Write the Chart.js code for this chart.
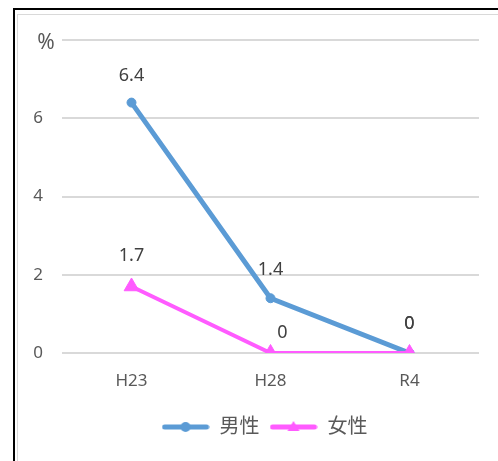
<!DOCTYPE html>
<html>
<head>
<meta charset="utf-8">
<script src="https://cdn.jsdelivr.net/npm/chart.js@4"></script>
<style>
  html, body { margin: 0; padding: 0; background: #fff; }
  #wrap { position: relative; width: 498px; height: 461px; overflow: hidden; }
  #outer { position: absolute; left: 13px; top: 8px; width: 520px; height: 480px; border: 2px solid #000; }
  #inner { position: absolute; left: 17px; top: 14px; width: 520px; height: 480px; border: 1px solid #d9d9d9; }
  canvas { position: absolute; left: 0; top: 0; }
</style>
</head>
<body>
<div id="wrap">
  <div id="outer"></div>
  <div id="inner"></div>
  <canvas id="lineChart" width="498" height="461"></canvas>
</div>
<script>
const categories = ["H23", "H28", "R4"];
const maleValues = [6.4, 1.4, 0];
const femaleValues = [1.7, 0, 0];
const seriesNames = ["男性", "女性"];
const yUnitLabel = "%";

// label offsets from the point (px), roughly where Excel put them
const maleLabelShift = [[0, -27], [0, -28], [0, -29]];
const femaleLabelShift = [[0, -31], [12, -20], [0, -29]];

const blue = "#5b9bd5";
const pink = "#ff5bff";
const textColor = "#595959";
const fontFamily = '"Noto Sans", "Noto Sans CJK JP", sans-serif';

function legendIcon(color, marker) {
  const c = document.createElement("canvas");
  c.width = 48;
  c.height = 16;
  const ctx = c.getContext("2d");
  ctx.strokeStyle = color;
  ctx.fillStyle = color;
  ctx.lineWidth = 5;
  ctx.lineCap = "round";
  ctx.beginPath();
  ctx.moveTo(3, 8);
  ctx.lineTo(45, 8);
  ctx.stroke();
  ctx.beginPath();
  if (marker === "circle") {
    ctx.arc(24, 8, 5, 0, Math.PI * 2);
  } else {
    ctx.moveTo(24, 2);
    ctx.lineTo(30, 12);
    ctx.lineTo(18, 12);
    ctx.closePath();
  }
  ctx.fill();
  return c;
}

const icons = [legendIcon(blue, "circle"), legendIcon(pink, "triangle")];

// Excel centres the legend under the plot area, not the whole canvas
const legendShift = {
  id: "legendShift",
  afterLayout(chart) {
    chart.legend.left = 50;
  }
};

const dataLabels = {
  id: "dataLabels",
  afterDatasetsDraw(chart) {
    const ctx = chart.ctx;
    const shifts = [maleLabelShift, femaleLabelShift];
    ctx.save();
    ctx.font = "18px " + fontFamily;
    ctx.fillStyle = "#404040";
    ctx.textAlign = "center";
    ctx.textBaseline = "middle";
    chart.data.datasets.forEach((ds, di) => {
      chart.getDatasetMeta(di).data.forEach((pt, i) => {
        const s = shifts[di][i];
        ctx.fillText(String(ds.data[i]), pt.x + s[0], pt.y + s[1]);
      });
    });
    // unit label in place of the top tick
    const y = chart.scales.y;
    ctx.fillStyle = textColor;
    ctx.font = "21px " + fontFamily;
    ctx.fillText(yUnitLabel, 46, y.getPixelForValue(y.max) + 3);
    ctx.restore();
  }
};

new Chart(document.getElementById("lineChart"), {
  type: "line",
  data: {
    labels: categories,
    datasets: [
      {
        label: seriesNames[0],
        data: maleValues,
        borderColor: blue,
        backgroundColor: blue,
        borderWidth: 5,
        pointStyle: "circle",
        pointRadius: 4.5,
        pointBorderWidth: 1,
        pointHoverRadius: 4.5,
        tension: 0,
        order: 1
      },
      {
        label: seriesNames[1],
        data: femaleValues,
        borderColor: pink,
        backgroundColor: pink,
        borderWidth: 4,
        pointStyle: "triangle",
        pointRadius: 8.5,
        pointBorderWidth: 1,
        pointHoverRadius: 8.5,
        tension: 0,
        order: 0
      }
    ]
  },
  plugins: [dataLabels, legendShift],
  options: {
    responsive: false,
    animation: false,
    layout: { padding: { left: 0, right: 19, top: 40, bottom: 14 } },
    plugins: {
      tooltip: { enabled: false },
      legend: {
        position: "bottom",
        labels: {
          usePointStyle: true,
          pointStyleWidth: 48,
          boxHeight: 16,
          padding: 10,
          color: textColor,
          font: { size: 20, family: fontFamily },
          sort: (a, b) => a.datasetIndex - b.datasetIndex,
          generateLabels(chart) {
            const items = Chart.defaults.plugins.legend.labels.generateLabels(chart);
            items.forEach(it => { it.pointStyle = icons[it.datasetIndex]; });
            return items;
          }
        }
      }
    },
    scales: {
      x: {
        offset: true,
        afterFit(scale) { scale.height = 54; },
        grid: { display: false, drawTicks: false },
        border: { display: false },
        ticks: { padding: 18, color: textColor, font: { size: 17, family: fontFamily } }
      },
      y: {
        min: 0,
        max: 8,
        afterFit(scale) { scale.width = 62; },
        grid: { color: "#d9d9d9", lineWidth: 2, drawTicks: false },
        border: { display: false },
        ticks: {
          stepSize: 2,
          padding: 19,
          color: textColor,
          font: { size: 17, family: fontFamily },
          callback: v => (v === 8 ? "" : v)
        }
      }
    }
  }
});
</script>
</body>
</html>
